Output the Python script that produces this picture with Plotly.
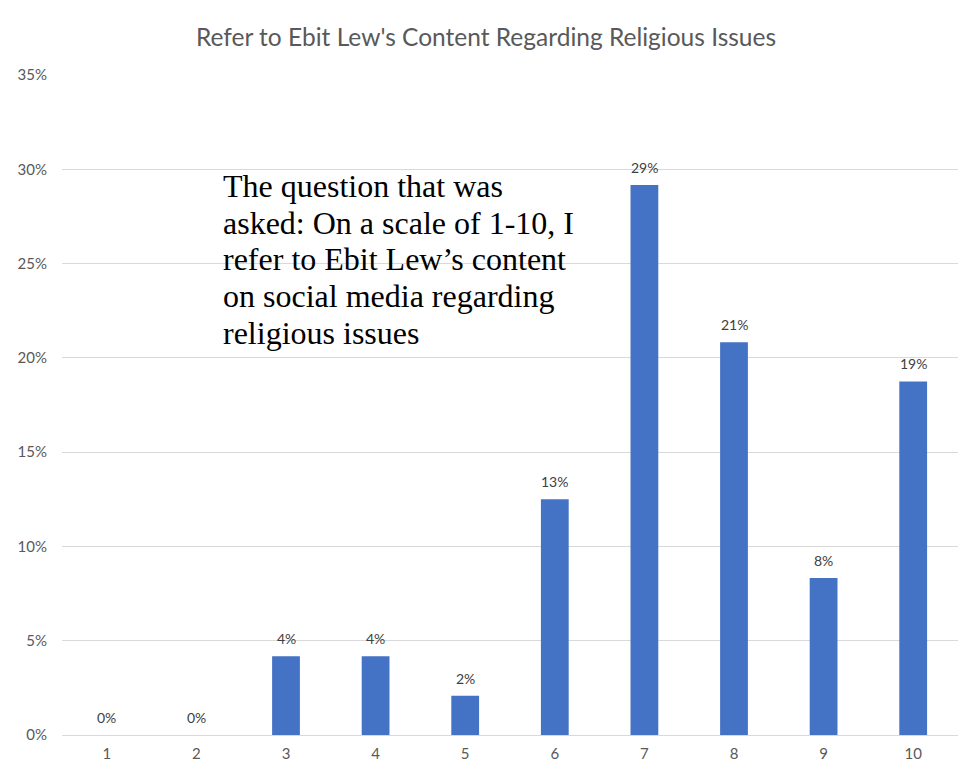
import plotly.graph_objects as go

categories = ["1", "2", "3", "4", "5", "6", "7", "8", "9", "10"]
values = [0.0, 0.0, 4.17, 4.17, 2.08, 12.5, 29.17, 20.83, 8.33, 18.75]
labels = ["0%", "0%", "4%", "4%", "2%", "13%", "29%", "21%", "8%", "19%"]
y_ticks = [0, 5, 10, 15, 20, 25, 30, 35]
y_tick_text = ["0%", "5%", "10%", "15%", "20%", "25%", "30%", "35%"]

title_text = "Refer to Ebit Lew's Content Regarding Religious Issues"
note_lines = [
    "The question that was",
    "asked: On a scale of 1-10, I",
    "refer to Ebit Lew\u2019s content",
    "on social media regarding",
    "religious issues",
]

# page has an 8px body margin; size figure so the page fits the window exactly
OFF = 8
W, H = 972 - 2 * OFF, 772 - 2 * OFF
L, T = 62 - OFF, 75 - OFF
R = W - (958 - OFF)
B = H - (735 - OFF)
plot_h = H - T - B
plot_w = W - L - R

fig = go.Figure()
fig.add_trace(go.Bar(
    x=categories, y=values,
    marker=dict(color="#4472C4", line=dict(width=0)),
    width=0.31, hoverinfo="x+y",
))

for i, (v, lab) in enumerate(zip(values, labels)):
    fig.add_annotation(x=i, y=v, text=lab, xref="x", yref="y",
                       yanchor="bottom", yshift=7, showarrow=False,
                       font=dict(family="Lato, Open Sans, sans-serif", size=14, color="#404040"))

fig.update_layout(
    width=W, height=H,
    margin=dict(l=L, r=R, t=T, b=B, autoexpand=False),
    paper_bgcolor="white", plot_bgcolor="white",
    showlegend=False,
    title=dict(text=title_text, x=0.5, xanchor="center", y=1 - (37 - OFF) / H, yanchor="middle",
               font=dict(family="Lato, Open Sans, sans-serif", size=24.5, color="#595959")),
    font=dict(family="Lato, Open Sans, sans-serif", color="#595959"),
)
fig.update_xaxes(type="category", range=[-0.5, 9.5], showgrid=False, showline=False, ticks="",
                 ticklabelstandoff=8, tickfont=dict(size=15, color="#595959"))
fig.update_yaxes(range=[0, 35], tickvals=y_ticks, ticktext=y_tick_text,
                 showgrid=True, gridcolor="#D9D9D9", gridwidth=1.2,
                 zeroline=True, zerolinecolor="#D9D9D9", zerolinewidth=1.2,
                 ticks="", ticklabelstandoff=14, tickfont=dict(size=15, color="#595959"))

# annotation lines: baselines in page pixels ~197 + 36.7*i
for i, line in enumerate(note_lines):
    baseline = 197 + 36.7 * i - OFF
    mid = baseline - 11
    fig.add_annotation(text=line, xref="paper", yref="paper",
                       x=(222 - OFF - L - 1) / plot_w,
                       y=(H - B - mid) / plot_h,
                       xanchor="left", yanchor="middle", align="left",
                       showarrow=False,
                       font=dict(family="Liberation Serif, Times New Roman, serif", size=32, color="#000000"))

fig.write_html("out.html")
